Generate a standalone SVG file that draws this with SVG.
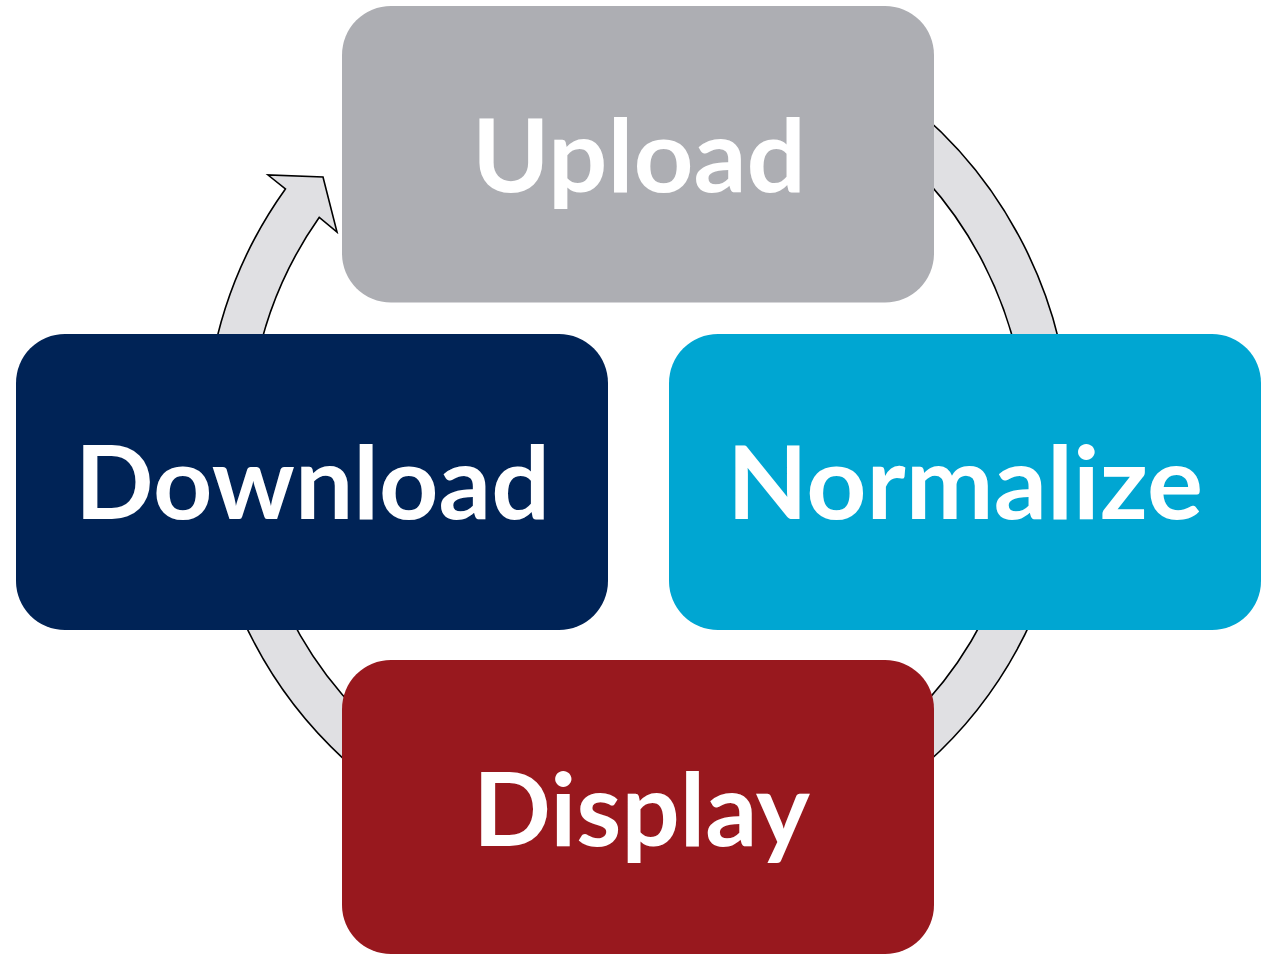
<svg xmlns="http://www.w3.org/2000/svg" width="1261" height="955" viewBox="0 0 1261 955">
  <style>
    .box { stroke: none; }
    .lbl { font-family: Lato, "Open Sans", "Liberation Sans", sans-serif; font-weight: 700; font-size: 101px; fill: #FFFFFF; text-anchor: middle; }
    .ring { fill: #E0E0E3; stroke: #000000; stroke-width: 1.6; stroke-linejoin: miter; }
  </style>
  <rect width="1261" height="955" fill="#FFFFFF"/>
  <g id="connectors">
    <path class="ring" d="M 489.4 34.1 A 433 433 0 1 1 285.4 189.0 L 268 175 L 323 177 L 337 232 L 319.3 217.3 A 389 389 0 1 0 504.5 75.5 Z"/>
  </g>
  <g id="node-upload">
    <rect class="box" x="342" y="6" width="592" height="296.5" rx="49" ry="49" fill="#ADAEB3"/>
    <text class="lbl" x="639" y="192" textLength="334" lengthAdjust="spacingAndGlyphs">Upload</text>
  </g>
  <g id="node-download">
    <rect class="box" x="16" y="334" width="592" height="296" rx="49" ry="49" fill="#002356"/>
    <text class="lbl" x="312.5" y="519" textLength="475" lengthAdjust="spacingAndGlyphs">Download</text>
  </g>
  <g id="node-normalize">
    <rect class="box" x="669" y="334" width="592" height="296" rx="49" ry="49" fill="#00A6D2"/>
    <text class="lbl" x="965" y="519" textLength="476" lengthAdjust="spacingAndGlyphs">Normalize</text>
  </g>
  <g id="node-display">
    <rect class="box" x="342" y="660" width="592" height="294" rx="49" ry="49" fill="#98181E"/>
    <text class="lbl" x="641.5" y="846" textLength="337" lengthAdjust="spacingAndGlyphs">Display</text>
  </g>
</svg>
